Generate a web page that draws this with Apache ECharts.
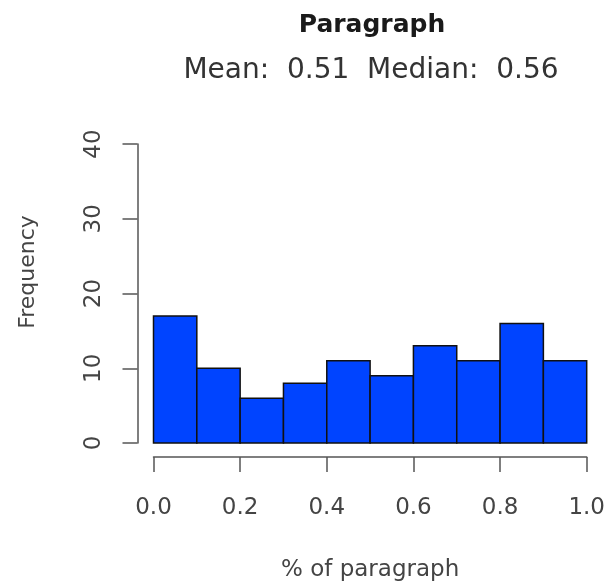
<!DOCTYPE html>
<html>
<head>
<meta charset="utf-8">
<script src="https://cdn.jsdelivr.net/npm/echarts@6/dist/echarts.min.js"></script>
<style>
html,body{margin:0;padding:0;background:#fff;}
#chart{width:605px;height:584px;}
</style>
</head>
<body>
<div id="chart"></div>
<script>
// Histogram data
const binEdges = [0.0, 0.1, 0.2, 0.3, 0.4, 0.5, 0.6, 0.7, 0.8, 0.9, 1.0];
const frequencies = [17, 10, 6, 8, 11, 9, 13, 11, 16, 11];
const xTicks = [0.0, 0.2, 0.4, 0.6, 0.8, 1.0];
const yTicks = [0, 10, 20, 30, 40];
const titleText = 'Paragraph';
const subtitleText = 'Mean:  0.51  Median:  0.56';
const xName = '% of paragraph';
const yName = 'Frequency';

const binData = frequencies.map((f, i) => [binEdges[i], binEdges[i + 1], f]);

const FONT = 'DejaVu Sans';
const chart = echarts.init(document.getElementById('chart'), null, {renderer: 'canvas'});
chart.setOption({
  backgroundColor: '#ffffff',
  animation: false,
  title: [
    {text: titleText, left: 367, top: 8, textAlign: 'center',
     textStyle: {fontFamily: FONT, fontSize: 25, fontWeight: 'bold', color: '#1a1a1a'}},
    {text: subtitleText, left: 366, top: 52, textAlign: 'center',
     textStyle: {fontFamily: FONT, fontSize: 28, fontWeight: 'normal', color: '#333'}}
  ],
  graphic: [{
    type: 'text', x: 28, y: 272, rotation: Math.PI / 2,
    style: {text: yName, fontFamily: FONT, fontSize: 22, fill: '#444',
            align: 'center', verticalAlign: 'middle'}
  }],
  grid: {left: 153.5, right: 18.3, top: 144, bottom: 141, containLabel: false,
         outerBoundsMode: 'none'},
  xAxis: {
    type: 'value', min: xTicks[0], max: xTicks[xTicks.length - 1], interval: 0.2,
    offset: 14,
    axisLine: {show: true, onZero: false, lineStyle: {color: '#555', width: 1.5}},
    axisTick: {show: true, inside: false, length: 15, lineStyle: {color: '#555', width: 1.5}},
    axisLabel: {margin: 40, fontFamily: FONT, fontSize: 23, color: '#444',
      formatter: v => v.toFixed(1)},
    splitLine: {show: false},
    name: xName, nameLocation: 'middle', nameGap: 102,
    nameTextStyle: {fontFamily: FONT, fontSize: 23, color: '#444'}
  },
  yAxis: {
    type: 'value', min: yTicks[0], max: yTicks[yTicks.length - 1], interval: 10,
    offset: 16,
    axisLine: {show: true, onZero: false, lineStyle: {color: '#555', width: 1.5}},
    axisTick: {show: true, inside: false, length: 15, lineStyle: {color: '#555', width: 1.5}},
    axisLabel: {margin: 32, rotate: 90, fontFamily: FONT, fontSize: 23, color: '#444'},
    splitLine: {show: false}
  },
  series: [{
    type: 'custom',
    data: binData,
    renderItem: function (params, api) {
      const p0 = api.coord([api.value(0), api.value(2)]);
      const p1 = api.coord([api.value(1), 0]);
      return {
        type: 'rect',
        shape: {x: p0[0], y: p0[1], width: p1[0] - p0[0], height: p1[1] - p0[1]},
        style: {fill: '#0044ff', stroke: '#111', lineWidth: 1.5}
      };
    },
    encode: {x: [0, 1], y: 2}
  }]
});
</script>
</body>
</html>
